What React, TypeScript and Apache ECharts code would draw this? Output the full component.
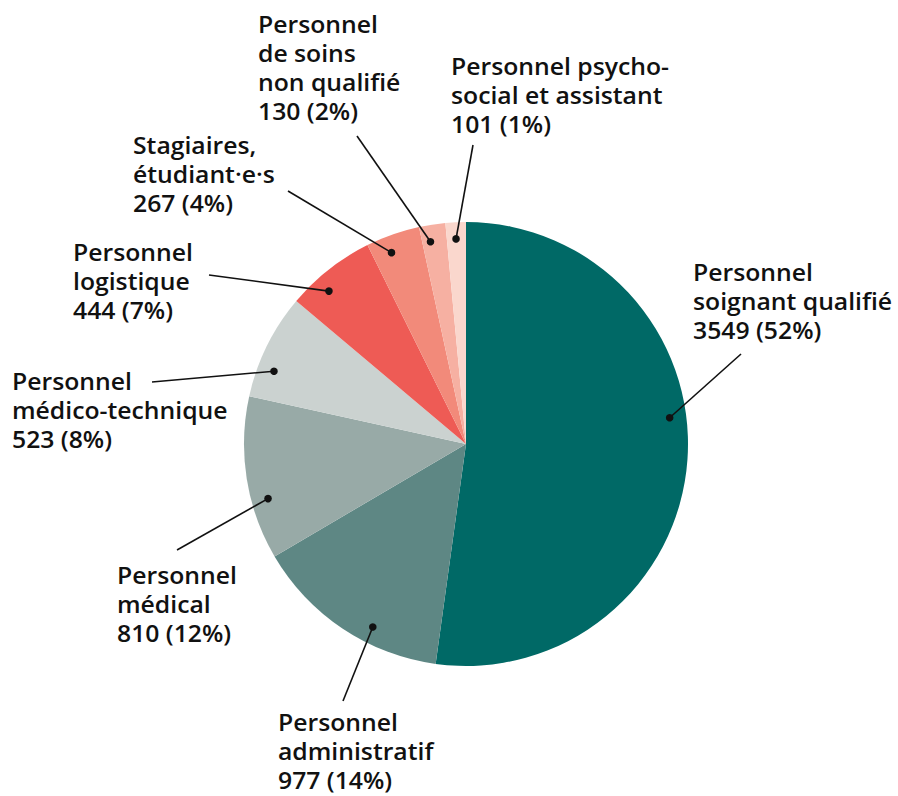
import React, { useEffect, useRef } from "react";
import * as echarts from "echarts";

const categories = [
  "Personnel\nsoignant qualifié",
  "Personnel\nadministratif",
  "Personnel\nmédical",
  "Personnel\nmédico-technique",
  "Personnel\nlogistique",
  "Stagiaires,\nétudiant·e·s",
  "Personnel\nde soins\nnon qualifié",
  "Personnel psycho-\nsocial et assistant",
];
const values = [3549, 977, 810, 523, 444, 267, 130, 101];
const colors = ["#006966", "#5e8784", "#98aaa7", "#cbd2d0", "#ee5b55", "#f28a7a", "#f6b0a2", "#fad7cd"];

// label layout (positions only)
const labelPos = [
  [693, 258], [278, 708], [117, 561], [12, 367], [73, 238], [133, 131], [258, 10], [451, 52],
];
const lineEnd = [
  [741, 354], [343, 701], [177, 550], [152, 382], [209, 275], [288, 191], [357, 136], [473, 145],
];
const anchorFrac = [0.44, 0.37, 0.35, 0.3, 0.34, 0.36, 0.33, 0.48];
const anchorR = 0.925;

export default function App() {
  const ref = useRef<HTMLDivElement>(null);
  useEffect(() => {
    const chart = echarts.init(ref.current!, null, { renderer: "svg" });
    const total = values.reduce((a, b) => a + b, 0);
    chart.setOption({
      animation: false,
      series: [
        {
          type: "pie",
          center: [466, 444],
          radius: [0, 222],
          startAngle: 90,
          clockwise: true,
          label: { show: false },
          labelLine: { show: false },
          silent: true,
          data: values.map((v, i) => ({
            name: categories[i],
            value: v,
            itemStyle: { color: colors[i] },
          })),
        },
      ],
    });
    const elements: any[] = [];
    let data: any = null;
    try {
      data = (chart as any).getModel().getSeriesByIndex(0).getData();
    } catch (e) {
      data = null;
    }
    let acc = 0;
    values.forEach((v, i) => {
      let cx = 466, cy = 444, r = 222, s = -Math.PI / 2 + (acc / total) * 2 * Math.PI, e = s + (v / total) * 2 * Math.PI;
      acc += v;
      if (data) {
        const l = data.getItemLayout(i);
        if (l) {
          cx = l.cx; cy = l.cy; r = l.r; s = l.startAngle; e = l.endAngle;
        }
      }
      const a = s + (e - s) * anchorFrac[i];
      const ax = cx + r * anchorR * Math.cos(a);
      const ay = cy + r * anchorR * Math.sin(a);
      elements.push({
        type: "line",
        shape: { x1: ax, y1: ay, x2: lineEnd[i][0], y2: lineEnd[i][1] },
        style: { stroke: "#111", lineWidth: 1.6 },
        z: 10,
      });
      elements.push({
        type: "circle",
        shape: { cx: ax, cy: ay, r: 3.8 },
        style: { fill: "#111" },
        z: 11,
      });
      const pct = Math.round((v / total) * 100);
      elements.push({
        type: "text",
        x: labelPos[i][0],
        y: labelPos[i][1],
        scaleX: 1.1,
        style: {
          text: `${categories[i]}\n${v} (${pct}%)`,
          fontFamily: "Open Sans",
          fontWeight: 600,
          fontSize: 22.5,
          lineHeight: 29,
          fill: "#111",
          align: "left",
          verticalAlign: "top",
        },
        z: 12,
      });
    });
    chart.setOption({ graphic: { elements } });
    return () => chart.dispose();
  }, []);
  return (
    <div
      ref={ref}
      style={{ position: "absolute", left: 0, top: 0, width: 898, height: 796, background: "#fff" }}
    />
  );
}
